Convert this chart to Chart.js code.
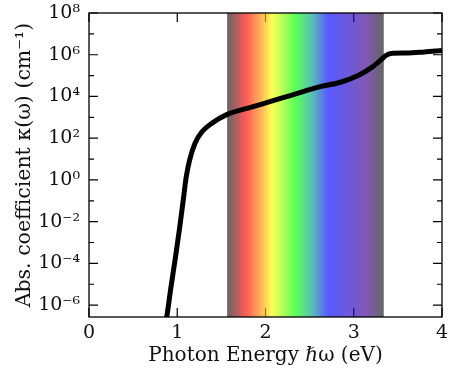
<!DOCTYPE html>
<html>
<head>
<meta charset="utf-8">
<script src="https://cdn.jsdelivr.net/npm/chart.js@4.4.0/dist/chart.umd.min.js"></script>
<style>
  html, body { margin: 0; padding: 0; background: #fff; }
  #wrap { width: 449px; height: 371px; }
</style>
</head>
<body>
<div id="wrap"><canvas id="c" width="449" height="371"></canvas></div>
<script>
// Photon energy (eV) and absorption coefficient (cm^-1)
const energy = [0.86, 0.88, 0.93, 0.98, 1.03, 1.07, 1.10, 1.14, 1.20, 1.28, 1.39, 1.56, 1.85, 2.05, 2.30, 2.62, 2.85, 3.05, 3.20, 3.30, 3.36, 3.42, 3.60, 3.80, 4.00];
const kappa  = [1e-7, 2.6e-7, 7.9e-6, 2.0e-4, 6.3e-3, 1.26e-1, 1.26, 8.9, 56, 204, 513, 1350, 3160, 5620, 11700, 29500, 47900, 1.0e5, 2.4e5, 5.25e5, 8.9e5, 1.15e6, 1.2e6, 1.35e6, 1.58e6];

// Axis ranges and tick labels
const xTicks = [0, 1, 2, 3, 4];
const yExponents = [-6, -5, -4, -3, -2, -1, 0, 1, 2, 3, 4, 5, 6, 7, 8];
const yLabelExps = [-6, -4, -2, 0, 2, 4, 6, 8];
const yMinExp = -6.57;
const yMaxExp = 8;

// Visible-light band (eV) and its colour stops
const bandStart = 1.565, bandEnd = 3.34;
const bandStops = [
  [1.565, 'rgba(0,0,0,0.6)'],
  [1.777, 'rgba(255,0,0,0.65)'],
  [1.948, 'rgba(255,140,0,0.65)'],
  [2.076, 'rgba(255,255,0,0.65)'],
  [2.345, 'rgba(0,255,0,0.65)'],
  [2.54,  'rgba(0,150,150,0.65)'],
  [2.71,  'rgba(0,0,255,0.65)'],
  [3.15,  'rgba(60,0,140,0.65)'],
  [3.34,  'rgba(0,0,0,0.6)']
];

const supMap = {'-':'⁻','0':'⁰','1':'¹','2':'²','3':'³','4':'⁴','5':'⁵','6':'⁶','7':'⁷','8':'⁸','9':'⁹'};
function sup(n){ return String(n).split('').map(c => supMap[c]).join(''); }

const FONT = "'DejaVu Serif', 'Liberation Serif', serif";

const innerTicks = {
  id: 'innerTicks',
  beforeDatasetsDraw(chart) {
    const {ctx, chartArea: a, scales: {x, y}} = chart;
    ctx.save();
    ctx.strokeStyle = '#000';
    ctx.lineWidth = 1.2;
    ctx.beginPath();
    xTicks.forEach(v => {
      const px = x.getPixelForValue(v);
      ctx.moveTo(px, a.bottom); ctx.lineTo(px, a.bottom - 9);
      ctx.moveTo(px, a.top); ctx.lineTo(px, a.top + 9);
    });
    yExponents.forEach(e => {
      const py = y.getPixelForValue(Math.pow(10, e));
      const len = (e % 2 === 0) ? 9 : 5;
      ctx.moveTo(a.left, py); ctx.lineTo(a.left + len, py);
      ctx.moveTo(a.right, py); ctx.lineTo(a.right - len, py);
    });
    ctx.stroke();
    // visible band
    const x0 = x.getPixelForValue(bandStart), x1 = x.getPixelForValue(bandEnd);
    const g = ctx.createLinearGradient(x0, 0, x1, 0);
    bandStops.forEach(([e, c]) => g.addColorStop((e - bandStart) / (bandEnd - bandStart), c));
    ctx.fillStyle = g;
    ctx.fillRect(x0, a.top, x1 - x0, a.bottom - a.top);
    ctx.restore();
  },
  afterDraw(chart) {
    const {ctx, chartArea: a} = chart;
    ctx.save();
    ctx.strokeStyle = '#000';
    ctx.lineWidth = 1.3;
    ctx.strokeRect(a.left, a.top, a.right - a.left, a.bottom - a.top);
    ctx.restore();
  }
};

const points = energy.map((e, i) => ({x: e, y: kappa[i]}));

new Chart(document.getElementById('c'), {
  type: 'line',
  data: {
    datasets: [{
      data: points,
      borderColor: '#000',
      borderWidth: 5,
      pointRadius: 0,
      cubicInterpolationMode: 'monotone',
      fill: false
    }]
  },
  options: {
    responsive: false,
    animation: false,
    events: [],
    layout: { padding: { top: 13, right: 7, left: 0, bottom: 0 } },
    plugins: { legend: { display: false }, tooltip: { enabled: false } },
    scales: {
      x: {
        type: 'linear',
        min: 0, max: 4,
        grid: { display: false, drawTicks: false },
        border: { display: false },
        afterBuildTicks(s) { s.ticks = xTicks.map(v => ({value: v})); },
        afterFit(s) { s.height = 54; s.paddingLeft = 0; s.paddingRight = 0; },
        ticks: { padding: 5, color: '#111', font: { family: FONT, size: 19 }, maxRotation: 0, autoSkip: false },
        title: { display: true, text: 'Photon Energy ℏω (eV)', color: '#111', font: { family: FONT, size: 20 }, padding: { top: 0, bottom: 3 } }
      },
      y: {
        type: 'logarithmic',
        min: Math.pow(10, yMinExp), max: Math.pow(10, yMaxExp),
        grid: { display: false, drawTicks: false },
        border: { display: false },
        afterBuildTicks(s) { s.ticks = yExponents.map(e => ({value: Math.pow(10, e)})); },
        afterFit(s) { s.width = 89; s.paddingTop = 0; s.paddingBottom = 0; },
        ticks: {
          padding: 9, color: '#111', font: { family: FONT, size: 19 }, autoSkip: false,
          callback(v) {
            const e = Math.round(Math.log10(v));
            return yLabelExps.includes(e) ? '10' + sup(e) : '';
          }
        },
        title: { display: true, text: 'Abs. coefficient κ(ω) (cm⁻¹)', color: '#111', font: { family: FONT, size: 20.5 }, padding: { top: 12, bottom: 0 } }
      }
    }
  },
  plugins: [innerTicks]
});
</script>
</body>
</html>
